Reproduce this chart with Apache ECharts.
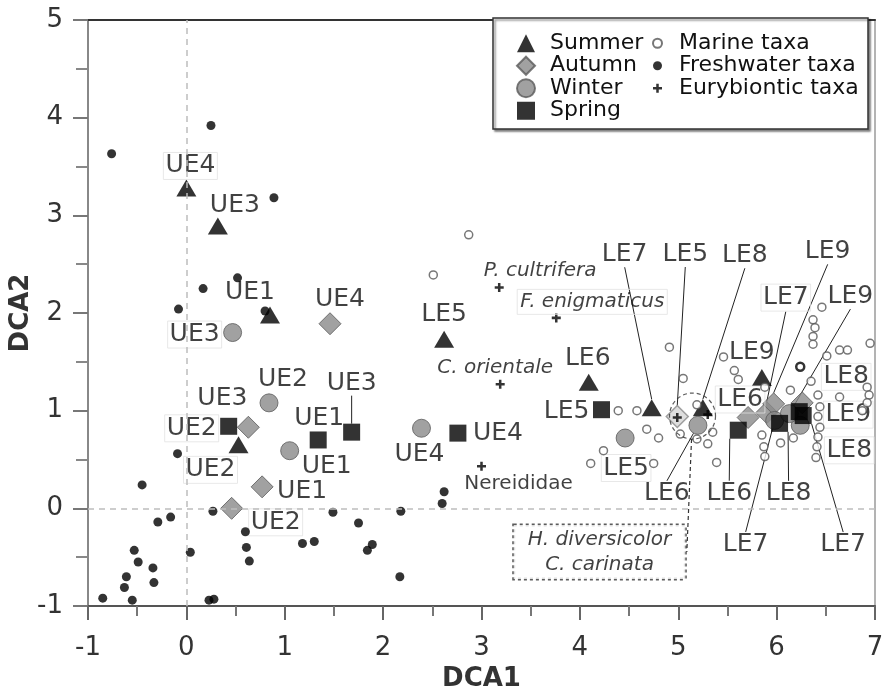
<!DOCTYPE html>
<html><head><meta charset="utf-8">
<script src="https://cdn.jsdelivr.net/npm/echarts@6/dist/echarts.min.js"></script>
<style>html,body{margin:0;padding:0;background:#fff}#c{width:884px;height:690px}</style>
</head><body><div id="c"></div>
<script>
// ---------- DATA ----------
const seasons = ['Summer', 'Autumn', 'Winter', 'Spring'];
const taxaGroups = ['Marine taxa', 'Freshwater taxa', 'Eurybiontic taxa'];

const summerSites = ['UE4','UE3','UE1','UE2','LE5','LE6','LE7','LE8','LE9'];
const summerX = [0.00, 0.32, 0.85, 0.53, 2.62, 4.09, 4.73, 5.25, 5.85];
const summerY = [3.28, 2.89, 1.98, 0.65, 1.73, 1.29, 1.03, 1.03, 1.34];

const autumnSites = ['UE4','UE3','UE1','UE2','LE5','LE6','LE7','LE8','LE9'];
const autumnX = [1.46, 0.63, 0.77, 0.46, 4.99, 5.71, 5.90, 6.26, 5.97];
const autumnY = [1.89, 0.83, 0.22, 0.00, 0.94, 0.93, 0.98, 1.08, 1.07];

const winterSites = ['UE3','UE2','UE1','UE4','LE5','LE6','LE7','LE8','LE9'];
const winterX = [0.47, 0.84, 1.05, 2.39, 4.46, 5.20, 5.98, 6.24, 6.13];
const winterY = [1.80, 1.08, 0.59, 0.82, 0.72, 0.85, 0.90, 0.85, 0.97];

const springSites = ['UE2','UE1','UE3','UE4','LE5','LE6','LE7','LE8','LE9'];
const springX = [0.43, 1.34, 1.68, 2.76, 4.22, 5.61, 6.27, 6.03, 6.23];
const springY = [0.84, 0.70, 0.78, 0.77, 1.01, 0.80, 0.95, 0.87, 0.99];

const marineX = [2.87,2.51,4.91,5.05,5.46,5.57,5.61,4.39,4.58,4.68,4.80,4.24,4.11,4.75,5.02,5.19,5.30,5.35,5.19,5.39,
  5.85,5.87,5.88,6.04,6.17,6.46,6.37,6.39,6.37,6.37,6.51,6.64,6.72,6.95,6.24,6.35,6.14,6.42,6.64,6.92,6.94,6.92,6.87,
  6.44,6.42,6.44,6.42,6.41,6.40,5.88];
const marineY = [2.80,2.39,1.65,1.33,1.55,1.41,1.32,1.00,1.00,0.81,0.72,0.59,0.46,0.46,0.76,0.71,0.66,0.78,1.06,0.47,
  0.75,0.63,0.53,0.67,0.72,2.06,1.93,1.85,1.76,1.68,1.56,1.62,1.62,1.69,1.45,1.30,1.21,1.16,1.14,1.24,1.16,1.08,1.00,
  1.04,0.94,0.83,0.73,0.63,0.52,1.24];

const freshX = [-0.76,0.25,0.89,0.52,0.17,-0.08,0.80,-0.09,-0.45,0.27,-0.16,-0.29,0.60,0.61,0.64,0.04,-0.53,-0.49,-0.34,
  -0.33,-0.61,-0.63,-0.85,-0.55,0.23,0.28,1.49,2.18,1.75,1.18,1.30,1.84,1.89,2.17,2.62,2.60];
const freshY = [3.63,3.92,3.18,2.36,2.25,2.04,2.02,0.56,0.24,-0.03,-0.09,-0.14,-0.24,-0.40,-0.54,-0.45,-0.43,-0.55,-0.61,
  -0.76,-0.70,-0.81,-0.92,-0.94,-0.94,-0.93,-0.04,-0.03,-0.15,-0.36,-0.34,-0.43,-0.37,-0.70,0.17,0.05];

const euryNames = ['P. cultrifera','F. enigmaticus','C. orientale','Nereididae','H. diversicolor','C. carinata'];
const euryX = [3.18, 3.76, 3.19, 3.00, 4.99, 5.30];
const euryY = [2.26, 1.95, 1.27, 0.43, 0.93, 0.96];

const xTicks = { min: -1, max: 7, step: 1 };
const yTicks = { min: -1, max: 5, step: 1 };

// ---------- LABEL LAYOUT (pixel offsets label centre vs. point) ----------
const summerLab = [[4,-22],[17,-21],[-20,-22],[-28,25],[0,-25],[-1,-24],[-27,-153],[42,-152],[-10,-25]];
const summerBox = [1,0,0,1,0,0,0,0,0];
const summerLead = [0,0,0,0,0,0,1,1,0];
const autumnLab = [[10,-24],[-26,-29],[40,5],[44,14],[8,-162],[-8,-18],[19,-115],[44,-26],[54,-152]];
const autumnBox = [0,0,0,1,0,1,1,1,0];
const autumnLead = [0,0,0,0,1,0,1,0,1];
const winterLab = [[-38,2],[14,-23],[37,16],[-2,26],[1,30],[-31,68],[-29,124],[49,25],[61,-117]];
const winterBox = [1,0,0,0,1,0,0,1,0];
const winterLead = [0,0,0,0,0,1,1,0,1];
const springLab = [[-37,2],[1,-21],[0,-49],[40,0],[-35,2],[-9,63],[40,129],[9,70],[49,3]];
const springBox = [1,0,0,0,0,0,0,0,1];
const springLead = [0,0,1,0,0,1,1,1,0];
const euryLab = [[41,-17],[36,-16],[-5,-16],[37,17]];
const euryItalic = [1,1,1,0];
const euryBox = [0,1,0,0];
const annotLab = [-93, 136];
// style overrides (index -> style)
const autumnFaded = { 4: { color: '#d6d6d6', borderColor: '#8a8a8a', borderWidth: 1.5 } };
const marineRing = { 34: { borderColor: '#000', borderWidth: 2.5 } };

// ---------- CHART ----------
const FONT = 'DejaVu Sans';
const chart = echarts.init(document.getElementById('c'), null, { renderer: 'canvas' });

function layoutFn(pos) {
  return function (p) {
    const o = pos[p.dataIndex];
    if (!o) return {};
    return {
      x: p.rect.x + p.rect.width / 2 + o[0],
      y: p.rect.y + p.rect.height / 2 + o[1],
      align: 'center', verticalAlign: 'middle'
    };
  };
}

function siteSeries(name, sites, xs, ys, pos, boxed, lead, symbol, size, style, overrides) {
  overrides = overrides || {};
  return {
    name: name, type: 'scatter', symbol: symbol, symbolSize: size, itemStyle: style,
    silent: true, emphasis: { disabled: true }, z: 3,
    data: sites.map((s, i) => {
      const d = {
        value: [xs[i], ys[i]], name: s,
        label: boxed[i] ? { borderColor: '#e2e2e2', borderWidth: 1 } : {},
        labelLine: { show: !!lead[i] }
      };
      if (overrides[i]) d.itemStyle = overrides[i];
      return d;
    }),
    label: { show: true, formatter: '{b}', fontFamily: FONT, fontSize: 25, color: '#111', padding: [2, 2, 0, 2] },
    labelLine: { show: false, lineStyle: { color: '#222', width: 1 } },
    labelLayout: layoutFn(pos)
  };
}

const plusPath = 'path://M3.6,0h2.8v3.6h3.6v2.8h-3.6v3.6h-2.8v-3.6h-3.6v-2.8h3.6z';
const annotX = (euryX[4] + euryX[5]) / 2;
const annotY = (euryY[4] + euryY[5]) / 2;

const series = [
  siteSeries('Summer', summerSites, summerX, summerY, summerLab, summerBox, summerLead, 'triangle', [20, 17],
    { color: '#000' }),
  siteSeries('Autumn', autumnSites, autumnX, autumnY, autumnLab, autumnBox, autumnLead, 'diamond', 22,
    { color: '#8a8a8a', borderColor: '#5a5a5a', borderWidth: 1 }, autumnFaded),
  siteSeries('Winter', winterSites, winterX, winterY, winterLab, winterBox, winterLead, 'circle', 18,
    { color: '#8a8a8a', borderColor: '#5a5a5a', borderWidth: 1 }),
  siteSeries('Spring', springSites, springX, springY, springLab, springBox, springLead, 'rect', 17,
    { color: '#000' }),
  {
    name: 'Marine taxa', type: 'scatter', symbol: 'circle', symbolSize: 8, silent: true, z: 4,
    itemStyle: { color: '#fff', borderColor: '#555', borderWidth: 1.5 },
    data: marineX.map((x, i) => marineRing[i] ? { value: [x, marineY[i]], itemStyle: marineRing[i] } : { value: [x, marineY[i]] })
  },
  {
    name: 'Freshwater taxa', type: 'scatter', symbol: 'circle', symbolSize: 9, silent: true, z: 4,
    itemStyle: { color: '#000' },
    data: freshX.map((x, i) => [x, freshY[i]]),
    markLine: {
      silent: true, symbol: 'none', label: { show: false }, animation: false,
      lineStyle: { type: [6, 5], color: '#bdbdbd', width: 1.5 },
      data: [{ xAxis: 0 }, { yAxis: 0 }]
    }
  },
  {
    name: 'Eurybiontic taxa', type: 'scatter', symbol: plusPath, symbolSize: 9, silent: true, z: 4,
    itemStyle: { color: '#000' },
    data: euryX.map((x, i) => ({
      value: [x, euryY[i]], name: euryNames[i],
      label: i < 4 ? {
        show: true, fontStyle: euryItalic[i] ? 'italic' : 'normal',
        borderColor: euryBox[i] ? '#e2e2e2' : 'transparent', borderWidth: euryBox[i] ? 1 : 0
      } : { show: false }
    })),
    label: { show: false, formatter: '{b}', fontFamily: FONT, fontSize: 20, color: '#111', padding: [3, 3, 2, 3] },
    labelLayout: layoutFn(euryLab)
  },
  {
    name: 'annot', type: 'scatter', symbol: 'circle', symbolSize: 46, silent: true, z: 5,
    itemStyle: { color: 'rgba(0,0,0,0)', borderColor: '#333', borderWidth: 1.2, borderType: [4, 3] },
    data: [{ value: [annotX, annotY], name: euryNames[4] + '\n' + euryNames[5] }],
    label: {
      show: true, formatter: '{b}', fontFamily: FONT, fontSize: 20, fontStyle: 'italic', color: '#111',
      lineHeight: 25, align: 'left', padding: [3, 14, 1, 14], backgroundColor: '#fff',
      borderColor: '#333', borderWidth: 1.5, borderType: [3, 3]
    },
    labelLine: { show: true, lineStyle: { color: '#333', width: 1.2, type: [4, 3] } },
    labelLayout: function (p) {
      return { x: p.rect.x + p.rect.width / 2 + annotLab[0], y: p.rect.y + p.rect.height / 2 + annotLab[1],
        align: 'center', verticalAlign: 'middle' };
    }
  }
];

const legendText = { fontFamily: FONT, fontSize: 22, color: '#111', lineHeight: 22.5 };

chart.setOption({
  animation: false,
  backgroundColor: '#fff',
  grid: { left: 88, right: 9, top: 20, bottom: 84, show: true, borderColor: '#9a9a9a', borderWidth: 1.5,
    backgroundColor: 'transparent', containLabel: false, outerBoundsMode: 'none' },
  xAxis: [{
    type: 'value', min: xTicks.min, max: xTicks.max, interval: xTicks.step,
    axisLine: { show: true, onZero: false, lineStyle: { color: '#555', width: 2 } },
    axisTick: { show: true, length: 14, lineStyle: { color: '#666', width: 2 } },
    minorTick: { show: true, splitNumber: 2, length: 10, lineStyle: { color: '#777', width: 2 } },
    splitLine: { show: false },
    axisLabel: { fontFamily: FONT, fontSize: 26, color: '#333', margin: 29 },
    name: 'DCA1', nameLocation: 'middle', nameGap: 60,
    nameTextStyle: { fontFamily: FONT, fontSize: 26, fontWeight: 'bold', color: '#333' }
  }, {
    type: 'value', position: 'top', min: xTicks.min, max: xTicks.max, interval: xTicks.step,
    axisLine: { show: true, onZero: false, lineStyle: { color: '#333', width: 2 } },
    axisTick: { show: false }, axisLabel: { show: false }, splitLine: { show: false }
  }],
  yAxis: {
    type: 'value', min: yTicks.min, max: yTicks.max, interval: yTicks.step,
    axisLine: { show: true, onZero: false, lineStyle: { color: '#888', width: 2 } },
    axisTick: { show: true, length: 15, lineStyle: { color: '#777', width: 2 } },
    minorTick: { show: true, splitNumber: 2, length: 12, lineStyle: { color: '#888', width: 2 } },
    splitLine: { show: false },
    axisLabel: { fontFamily: FONT, fontSize: 26, color: '#333', margin: 25 },
    name: 'DCA2', nameLocation: 'middle', nameGap: 54, nameRotate: 90, nameMoveOverlap: false,
    nameTextStyle: { fontFamily: FONT, fontSize: 26, fontWeight: 'bold', color: '#333' }
  },
  graphic: [{
    type: 'rect', silent: true, z: 8,
    shape: { x: 493, y: 18, width: 375, height: 111 },
    style: { fill: '#fff', stroke: '#333', lineWidth: 1.5, shadowBlur: 2, shadowOffsetX: 2, shadowOffsetY: 2, shadowColor: 'rgba(0,0,0,0.45)' }
  }],
  legend: [{
    data: seasons, orient: 'vertical', left: 516, top: 32, padding: 0, z: 10,
    itemWidth: 18, itemHeight: 18, itemGap: 0, selectedMode: false,
    textStyle: Object.assign({ padding: [0, 0, 0, 10] }, legendText)
  }, {
    data: taxaGroups, orient: 'vertical', left: 652, top: 32, padding: 0, z: 10,
    itemWidth: 9, itemHeight: 9, itemGap: 0, selectedMode: false,
    textStyle: Object.assign({ padding: [0, 0, 0, 12] }, legendText)
  }],
  series: series
});
</script>
</body></html>
